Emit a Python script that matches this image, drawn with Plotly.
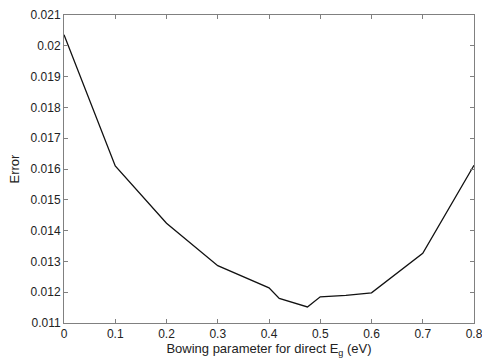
import plotly.graph_objects as go

bowing = [0.0, 0.1, 0.2, 0.3, 0.4, 0.42, 0.475, 0.5, 0.55, 0.6, 0.7, 0.8]
error = [0.02036, 0.01610, 0.01424, 0.01286, 0.01214, 0.01180, 0.01152, 0.01185, 0.01190, 0.01198, 0.01326, 0.01612]

x_ticks = [0, 0.1, 0.2, 0.3, 0.4, 0.5, 0.6, 0.7, 0.8]
x_labels = ["0", "0.1", "0.2", "0.3", "0.4", "0.5", "0.6", "0.7", "0.8"]
y_ticks = [0.011, 0.012, 0.013, 0.014, 0.015, 0.016, 0.017, 0.018, 0.019, 0.02, 0.021]
y_labels = ["0.011", "0.012", "0.013", "0.014", "0.015", "0.016", "0.017", "0.018", "0.019", "0.02", "0.021"]

fig = go.Figure()
fig.add_trace(go.Scatter(x=bowing, y=error, mode="lines",
                         line=dict(color="#111111", width=1.3)))

axis_common = dict(showline=True, linecolor="#808080", linewidth=1, mirror="ticks",
                   ticks="inside", ticklen=4, tickcolor="#808080", tickwidth=1,
                   showgrid=False, zeroline=False, ticklabeloverflow="allow",
                   automargin=False,
                   tickfont=dict(family="Liberation Sans, Arial, sans-serif", size=12, color="#222222"))

fig.update_layout(
    width=482, height=361,
    margin=dict(l=64, r=8, t=15, b=38),
    paper_bgcolor="white", plot_bgcolor="white",
    showlegend=False,
    font=dict(family="Liberation Sans, Arial, sans-serif", size=12, color="#222222"),
    xaxis=dict(range=[0, 0.8], tickvals=x_ticks, ticktext=x_labels,
               title=dict(text="Bowing parameter for direct E<sub>g</sub> (eV)", standoff=2,
                          font=dict(size=13)),
               **axis_common),
    yaxis=dict(range=[0.011, 0.021], tickvals=y_ticks, ticktext=y_labels,
               title=dict(text="Error", standoff=8, font=dict(size=13)),
               **axis_common),
)

fig.write_html("out.html", config={"displayModeBar": False})

with open("out.html", "r", encoding="utf-8") as f:
    html = f.read()
html = html.replace("<head>", "<head><style>html,body{margin:0;padding:0;overflow:hidden;}</style>", 1)
with open("out.html", "w", encoding="utf-8") as f:
    f.write(html)
